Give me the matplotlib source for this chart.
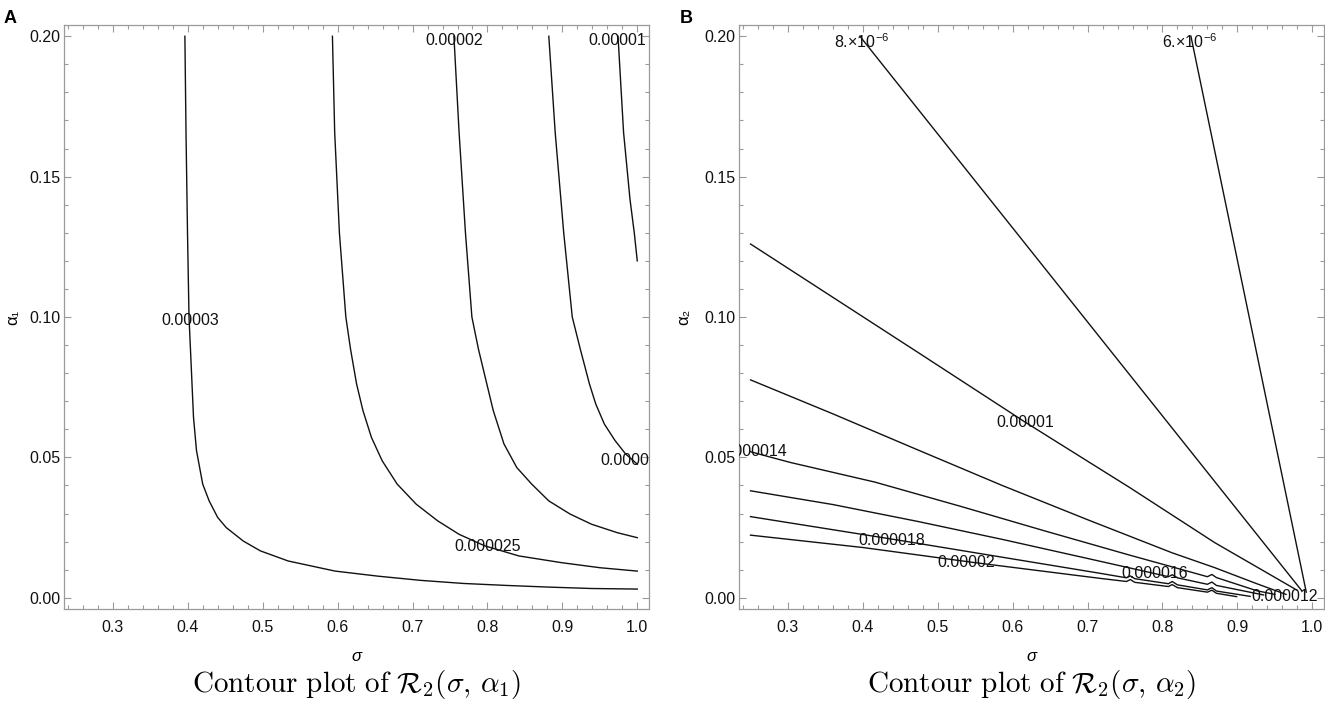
import matplotlib
matplotlib.use('Agg')
import matplotlib.pyplot as plt
from matplotlib.ticker import FixedLocator, FormatStrFormatter

plt.rcParams['font.family'] = ['Liberation Sans', 'DejaVu Sans']
plt.rcParams['mathtext.fontset'] = 'cm'

# ---------------- Panel A : contours of R2(sigma, alpha1) ----------------
a1_sigma = [0.3960, 0.3975, 0.3995, 0.4015, 0.4035, 0.4075, 0.4115, 0.4198, 0.4284, 0.4398,
            0.4512, 0.4740, 0.4968, 0.5339, 0.5966, 0.6537, 0.7107, 0.7678, 0.8248, 0.8819,
            0.9389, 1.0]
a1_alpha = [0.2, 0.1658, 0.130, 0.100, 0.0882, 0.0643, 0.0524, 0.0405, 0.0345, 0.0286,
            0.0250, 0.0202, 0.0167, 0.0131, 0.0095, 0.0077, 0.0062, 0.0051, 0.0044, 0.0038,
            0.0033, 0.0031]

a2_sigma = [0.5930, 0.5960, 0.6023, 0.6109, 0.6172, 0.6252, 0.6337, 0.6451, 0.6594, 0.6794,
            0.7050, 0.7335, 0.7621, 0.7963, 0.8419, 0.8990, 0.9503, 1.0]
a2_alpha = [0.2, 0.1658, 0.130, 0.100, 0.0885, 0.0762, 0.0667, 0.0571, 0.0488, 0.0405,
            0.0333, 0.0274, 0.0226, 0.0185, 0.0149, 0.0125, 0.0107, 0.0095]

a3_sigma = [0.7552, 0.7621, 0.7706, 0.7792, 0.7880, 0.7991, 0.8077, 0.8220, 0.8391, 0.8590,
            0.8819, 0.9104, 0.9389, 0.9731, 1.0]
a3_alpha = [0.2, 0.1658, 0.130, 0.100, 0.0885, 0.0762, 0.0667, 0.0548, 0.0464, 0.0405,
            0.0345, 0.0298, 0.0262, 0.0232, 0.0214]

a4_sigma = [0.8819, 0.8904, 0.9018, 0.9132, 0.9240, 0.9361, 0.9446, 0.9560, 0.9703, 0.9845, 1.0]
a4_alpha = [0.2, 0.1658, 0.130, 0.100, 0.0885, 0.0762, 0.0690, 0.0619, 0.0560, 0.0512, 0.0476]

a5_sigma = [0.9743, 0.9817, 0.9903, 0.9960, 1.0]
a5_alpha = [0.2, 0.1658, 0.1419, 0.130, 0.120]

a_label_text = ['0.00003', '0.000025', '0.00002', '0.000015', '0.00001']
a_label_sigma = [0.4025, 0.800, 0.755, 0.9955, 0.973]
a_label_alpha = [0.0987, 0.0181, 0.1985, 0.0488, 0.1985]

# ---------------- Panel B : contours of R2(sigma, alpha2) ----------------
b1_sigma = [0.838, 0.992]
b1_alpha = [0.200, 0.0020]

b2_sigma = [0.396, 0.986]
b2_alpha = [0.200, 0.0025]

b3_sigma = [0.25, 0.47, 0.617, 0.756, 0.87, 0.979]
b3_alpha = [0.126, 0.088, 0.0625, 0.0393, 0.0196, 0.0028]

b4_sigma = [0.25, 0.36, 0.473, 0.586, 0.70, 0.813, 0.87, 0.926, 0.965]
b4_alpha = [0.0776, 0.0655, 0.0527, 0.0400, 0.0278, 0.0160, 0.0107, 0.0050, 0.0012]

b5_sigma = [0.25, 0.303, 0.416, 0.53, 0.643, 0.756, 0.813, 0.860, 0.866, 0.872, 0.926, 0.95]
b5_alpha = [0.052, 0.0482, 0.0412, 0.0326, 0.0238, 0.0152, 0.0110, 0.0075, 0.0083, 0.0072, 0.0025, 0.0012]

b6_sigma = [0.25, 0.36, 0.473, 0.586, 0.70, 0.79, 0.808, 0.813, 0.820, 0.860, 0.866, 0.872, 0.935]
b6_alpha = [0.0381, 0.0332, 0.0272, 0.0208, 0.0140, 0.0086, 0.0075, 0.0082, 0.0071, 0.0048, 0.0056, 0.0044, 0.0010]

b7_sigma = [0.25, 0.448, 0.717, 0.752, 0.757, 0.763, 0.808, 0.813, 0.820, 0.860, 0.866, 0.872, 0.917]
b7_alpha = [0.0289, 0.0205, 0.0087, 0.0071, 0.0078, 0.0068, 0.0050, 0.0058, 0.0046, 0.0028, 0.0036, 0.0024, 0.0005]

b8_sigma = [0.25, 0.40, 0.547, 0.717, 0.752, 0.757, 0.763, 0.808, 0.813, 0.820, 0.860, 0.866, 0.872, 0.899]
b8_alpha = [0.0223, 0.0179, 0.0126, 0.0069, 0.0058, 0.0065, 0.0055, 0.0040, 0.0047, 0.0036, 0.0020, 0.0027, 0.0016, 0.0004]

b_label_text = ['6.×10$^{\\mathregular{-6}}$', '8.×10$^{\\mathregular{-6}}$', '0.00001', '0.000012',
                '0.000014', '0.000016', '0.000018', '0.00002']
b_label_sigma = [0.837, 0.398, 0.617, 0.9636, 0.254, 0.790, 0.439, 0.538]
b_label_alpha = [0.1982, 0.1982, 0.0625, 0.0004, 0.052, 0.0086, 0.0205, 0.0125]

x_major = [0.3, 0.4, 0.5, 0.6, 0.7, 0.8, 0.9, 1.0]
x_minor = [0.24 + 0.02 * i for i in range(39)]
y_major = [0.00, 0.05, 0.10, 0.15, 0.20]
y_minor = [0.01 * i for i in range(21)]

frame_col = '#9a9a9a'
line_col = '#111111'

fig = plt.figure(figsize=(13.25, 7.01), dpi=100)
W, H = 1325.0, 701.0
axA = fig.add_axes([64.3 / W, 92 / H, 584.2 / W, 584 / H])
axB = fig.add_axes([739.3 / W, 92 / H, 584.2 / W, 584 / H])


def style(ax):
    ax.set_xlim(0.235, 1.015)
    ax.set_ylim(-0.004, 0.204)
    ax.xaxis.set_major_locator(FixedLocator(x_major))
    ax.xaxis.set_minor_locator(FixedLocator(x_minor))
    ax.yaxis.set_major_locator(FixedLocator(y_major))
    ax.yaxis.set_minor_locator(FixedLocator(y_minor))
    ax.xaxis.set_major_formatter(FormatStrFormatter('%.1f'))
    ax.yaxis.set_major_formatter(FormatStrFormatter('%.2f'))
    ax.tick_params(which='both', direction='in', top=True, right=True,
                   color=frame_col, width=0.8)
    ax.tick_params(which='major', length=5.2)
    ax.tick_params(which='minor', length=2.8)
    ax.tick_params(axis='both', labelsize=11.5, labelcolor='#111111')
    ax.tick_params(axis='x', pad=8)
    ax.tick_params(axis='y', pad=3)
    for s in ax.spines.values():
        s.set_color(frame_col)
        s.set_linewidth(0.9)


for ax in (axA, axB):
    style(ax)

for xs, ys in [(a1_sigma, a1_alpha), (a2_sigma, a2_alpha), (a3_sigma, a3_alpha),
               (a4_sigma, a4_alpha), (a5_sigma, a5_alpha)]:
    axA.plot(xs, ys, color=line_col, lw=1.0, solid_joinstyle='round')

for xs, ys in [(b1_sigma, b1_alpha), (b2_sigma, b2_alpha), (b3_sigma, b3_alpha),
               (b4_sigma, b4_alpha), (b5_sigma, b5_alpha), (b6_sigma, b6_alpha),
               (b7_sigma, b7_alpha), (b8_sigma, b8_alpha)]:
    axB.plot(xs, ys, color=line_col, lw=1.0, solid_joinstyle='round')


def labels(ax, texts, xs, ys):
    for t, x, y in zip(texts, xs, ys):
        tt = ax.text(x, y, t, ha='center', va='center', fontsize=11.5, color='#111111',
                     clip_on=True)
        tt.set_clip_box(ax.bbox)


labels(axA, a_label_text, a_label_sigma, a_label_alpha)
labels(axB, b_label_text, b_label_sigma, b_label_alpha)

# axis labels and captions
axA.text(-0.088, 0.5, 'α₁', rotation=90, ha='center', va='center', fontsize=12,
         transform=axA.transAxes)
axB.text(-0.095, 0.5, 'α₂', rotation=90, ha='center', va='center', fontsize=12,
         transform=axB.transAxes)
for ax in (axA, axB):
    ax.text(0.5, -0.082, 'σ', style='italic', ha='center', va='center', fontsize=12,
            transform=ax.transAxes)
axA.text(0.5, -0.142, r'$\mathrm{Contour\ plot\ of\ }\mathcal{R}_2(\sigma,\,\alpha_1)$',
         ha='center', va='baseline', fontsize=21, transform=axA.transAxes)
axB.text(0.5, -0.142, r'$\mathrm{Contour\ plot\ of\ }\mathcal{R}_2(\sigma,\,\alpha_2)$',
         ha='center', va='baseline', fontsize=21, transform=axB.transAxes)

fig.text(4 / W, 1 - 23 / H, 'A', fontsize=13, fontweight='bold', va='baseline', ha='left')
fig.text(680 / W, 1 - 23 / H, 'B', fontsize=13, fontweight='bold', va='baseline', ha='left')

fig.savefig('out.png', dpi=100, facecolor='white')
